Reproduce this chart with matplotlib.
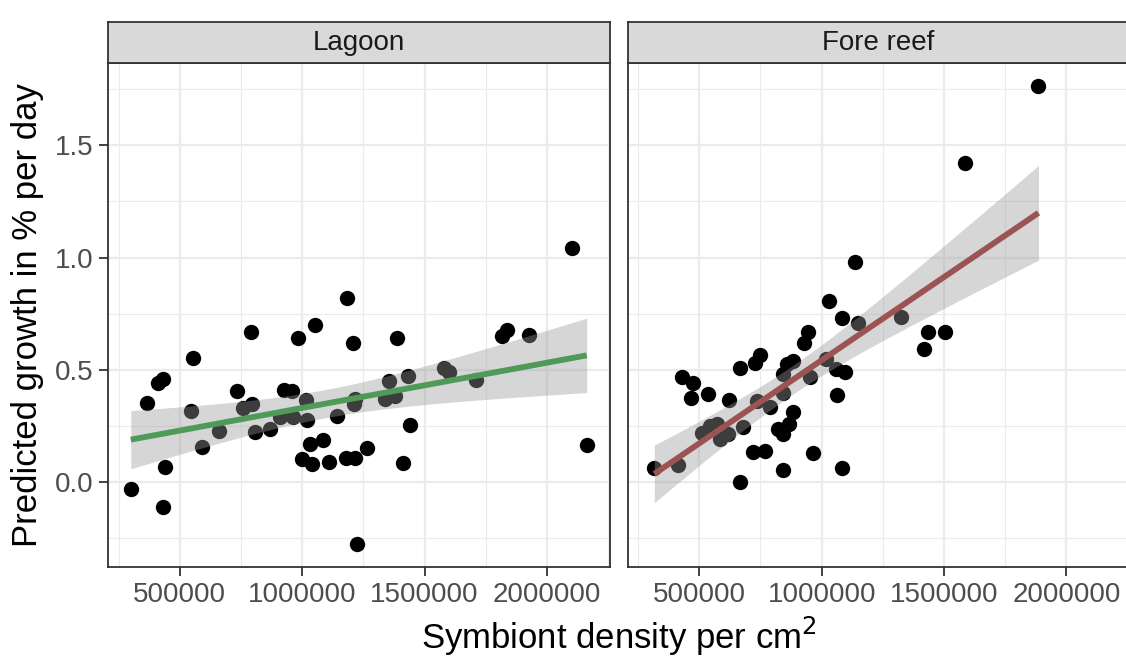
"""Predicted coral growth vs symbiont density, faceted by habitat (lm fit + 95% CI)."""
import numpy as np
import matplotlib
matplotlib.use("Agg")
import matplotlib.pyplot as plt

plt.rcParams["font.family"] = ["Liberation Sans", "DejaVu Sans"]

# ----- data -----
panel_titles = ["Lagoon", "Fore reef"]

lagoon_density = [
    299700, 363900, 411300, 429300, 441500, 431700, 545000, 554400, 589900, 659400,
    731800, 757600, 789000, 793500, 808700, 870000, 908800, 925200, 958700, 963200,
    984500, 999600, 1015100, 1018000, 1030300, 1038800, 1050700, 1083400, 1110400, 1143100,
    1177800, 1184800, 1208500, 1215500, 1211400, 1217500, 1222400, 1263300, 1336900, 1355700,
    1379000, 1388400, 1410500, 1433400, 1439100, 1580600, 1601000, 1710200, 1817700, 1835700,
    1926800, 2101400, 2162700,
]
lagoon_growth = [
    -0.030, 0.351, 0.444, 0.459, 0.069, -0.111, 0.316, 0.552, 0.159, 0.229,
    0.404, 0.329, 0.667, 0.349, 0.224, 0.238, 0.289, 0.409, 0.406, 0.289,
    0.640, 0.104, 0.367, 0.278, 0.169, 0.080, 0.698, 0.189, 0.092, 0.296,
    0.107, 0.818, 0.619, 0.372, 0.348, 0.110, -0.274, 0.151, 0.372, 0.451,
    0.384, 0.644, 0.086, 0.474, 0.253, 0.507, 0.489, 0.455, 0.652, 0.678,
    0.656, 1.041, 0.164,
]

forereef_density = [
    316000, 410900, 428000, 472200, 466100, 536800, 622600, 665200, 727700, 749400,
    509800, 543700, 572400, 584600, 616100, 679900, 718300, 767400, 666400, 734700,
    787000, 843400, 884300, 823000, 864700, 843400, 840100, 843400, 857300, 884300,
    926800, 945600, 952600, 1019200, 1031500, 1056800, 1096900, 1064200, 966100, 1083400,
    1082200, 1136500, 1148800, 1323400, 1433800, 1504500, 1418700, 1585000, 1885900,
]
forereef_growth = [
    0.064, 0.077, 0.468, 0.444, 0.373, 0.392, 0.364, 0.507, 0.530, 0.567,
    0.219, 0.252, 0.258, 0.192, 0.215, 0.244, 0.133, 0.139, 0.002, 0.363,
    0.337, 0.397, 0.314, 0.237, 0.259, 0.215, 0.055, 0.481, 0.526, 0.540,
    0.620, 0.671, 0.468, 0.550, 0.807, 0.504, 0.492, 0.387, 0.129, 0.063,
    0.733, 0.982, 0.707, 0.736, 0.667, 0.671, 0.592, 1.419, 1.763,
]

line_colors = ["#4F9A59", "#9B5353"]

x_major = [500000, 1000000, 1500000, 2000000]
x_minor = [250000, 750000, 1250000, 1750000, 2250000]
y_major = [0.0, 0.5, 1.0, 1.5]
y_minor = [-0.25, 0.25, 0.75, 1.25, 1.75]

GRID = "#EBEBEB"
BORDER = "#333333"
TICKTXT = "#4D4D4D"


def lm_band(x, y, n=80, t=2.01):
    """Linear fit with 95% confidence band, like geom_smooth(method='lm')."""
    x = np.asarray(x, float)
    y = np.asarray(y, float)
    b, a = np.polyfit(x, y, 1)
    resid = y - (a + b * x)
    s = np.sqrt(np.sum(resid ** 2) / (len(x) - 2))
    xs = np.linspace(x.min(), x.max(), n)
    se = s * np.sqrt(1 / len(x) + (xs - x.mean()) ** 2 / np.sum((x - x.mean()) ** 2))
    fit = a + b * xs
    return xs, fit, fit - t * se, fit + t * se


def main():
    fig = plt.figure(figsize=(11.26, 6.59), dpi=100)
    W, H = 1126, 659

    all_x = np.array(lagoon_density + forereef_density, float)
    all_y = np.array(lagoon_growth + forereef_growth, float)
    xr = all_x.max() - all_x.min()
    yr = all_y.max() - all_y.min()
    xlim = (all_x.min() - 0.05 * xr, all_x.max() + 0.05 * xr)
    ylim = (all_y.min() - 0.05 * yr, all_y.max() + 0.05 * yr)

    panel_w = 501.5
    lefts = [108, 627.5]
    bottom_px, top_px = 566.7, 63.3
    strip_top = 22

    datasets = [(lagoon_density, lagoon_growth), (forereef_density, forereef_growth)]

    for i, (dx, dy) in enumerate(datasets):
        ax = fig.add_axes([lefts[i] / W, 1 - bottom_px / H, panel_w / W, (bottom_px - top_px) / H])
        ax.set_xlim(xlim)
        ax.set_ylim(ylim)

        ax.scatter(dx, dy, s=122, color="black", linewidths=0, zorder=3)
        xs, fit, lo, hi = lm_band(dx, dy)
        ax.fill_between(xs, lo, hi, color="#999999", alpha=0.4, linewidth=0, zorder=4)
        ax.plot(xs, fit, color=line_colors[i], lw=4.2, zorder=5, solid_capstyle="butt")

        ax.set_xticks(x_major)
        ax.set_xticks(x_minor, minor=True)
        ax.set_yticks(y_major)
        ax.set_yticks(y_minor, minor=True)
        ax.grid(which="major", color=GRID, lw=1.6, zorder=0)
        ax.grid(which="minor", color=GRID, lw=0.8, zorder=0)
        ax.set_axisbelow(True)

        ax.set_xticklabels([str(v) for v in x_major], fontsize=20, color=TICKTXT)
        ax.tick_params(axis="x", which="major", length=6.7, width=1.3, color=BORDER, pad=4)
        ax.tick_params(which="minor", length=0)
        if i == 0:
            ax.set_yticklabels([f"{v:.1f}" for v in y_major], fontsize=20, color=TICKTXT)
            ax.tick_params(axis="y", which="major", length=6.7, width=1.3, color=BORDER, pad=4)
        else:
            ax.tick_params(axis="y", which="both", length=0, labelleft=False)

        for sp in ax.spines.values():
            sp.set_color(BORDER)
            sp.set_linewidth(1.3)

        # facet strip
        sax = fig.add_axes([lefts[i] / W, 1 - top_px / H, panel_w / W, (top_px - strip_top) / H])
        sax.set_facecolor("#D9D9D9")
        sax.set_xticks([])
        sax.set_yticks([])
        for sp in sax.spines.values():
            sp.set_color(BORDER)
            sp.set_linewidth(1.3)
        sax.text(0.5, 0.5, panel_titles[i], ha="center", va="center",
                 fontsize=20, color="#1A1A1A", transform=sax.transAxes)

    fig.text((108 + 627.5 + panel_w) / 2 / W, 1 - 649 / H, "Symbiont density per cm$^2$",
             ha="center", va="baseline", fontsize=25)
    fig.text(28 / W, 1 - (top_px + bottom_px) / 2 / H, "Predicted growth in % per day",
             ha="center", va="center", rotation=90, fontsize=25)

    fig.savefig("out.png", dpi=100)
    plt.close(fig)


if __name__ == "__main__":
    main()
